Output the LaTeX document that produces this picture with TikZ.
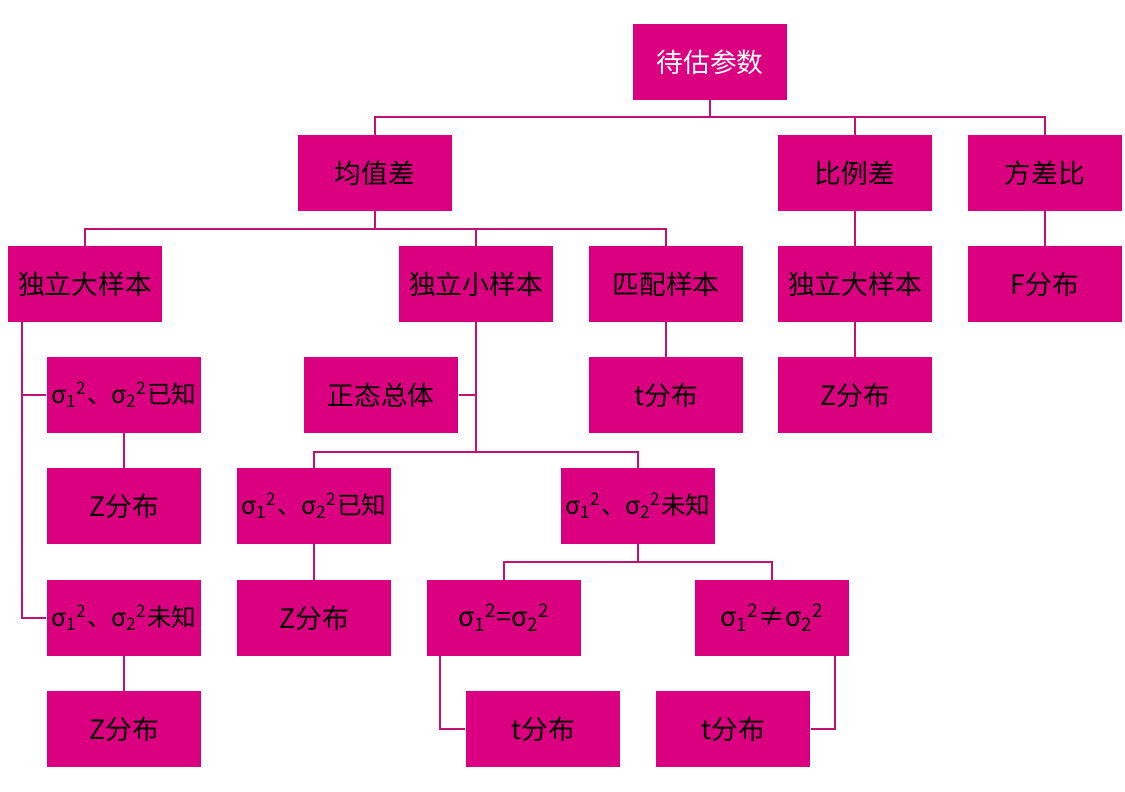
\documentclass[tikz,border=0pt]{standalone}
\usepackage{fontspec}
\newfontfamily\cjk{Noto Sans CJK SC}
\usetikzlibrary{calc}
\definecolor{boxfill}{RGB}{219,0,127}
\definecolor{linkcol}{RGB}{196,16,112}
\newcommand{\sgm}[1]{σ\textsubscript{#1}\textsuperscript{2}}
\begin{document}
\begin{tikzpicture}[
    x=0.025cm, y=-0.025cm,
    every node/.style={font=\cjk\fontsize{19}{22}\selectfont, align=center},
    box/.style={rectangle, fill=boxfill, minimum width=3.87cm, minimum height=1.9cm, inner sep=0pt},
    sbox/.style={box, font=\cjk\fontsize{17.5}{21}\selectfont},
    link/.style={draw=linkcol, line width=1.4pt}
]
\useasboundingbox (0,0) rectangle (1125,791);
% level 0 and 1
\node[box, text=white] (top) at (710,62)  {待估参数};
\node[box] (jzc)  at (375,173)  {均值差};
\node[box] (blc)  at (855,173)  {比例差};
\node[box] (fcb)  at (1045,173) {方差比};
% level 2
\node[box] (dyd1) at (85,284)   {独立大样本};
\node[box] (dyx)  at (476,284)  {独立小样本};
\node[box] (ppy)  at (666,284)  {匹配样本};
\node[box] (dyd2) at (855,284)  {独立大样本};
\node[box] (ff)   at (1045,284) {F分布};
% level 3
\node[sbox] (kn1) at (124,395)  {\sgm1、\sgm2已知};
\node[box] (ztz)  at (381,395)  {正态总体};
\node[box] (tt1)  at (666,395)  {t分布};
\node[box] (zz1)  at (855,395)  {Z分布};
% level 4
\node[box] (zz2)  at (124,506)  {Z分布};
\node[sbox] (kn2) at (314,506)  {\sgm1、\sgm2已知};
\node[sbox] (wz2) at (638,506)  {\sgm1、\sgm2未知};
% level 5
\node[sbox] (wz1) at (124,618)  {\sgm1、\sgm2未知};
\node[box] (zz3)  at (314,618)  {Z分布};
\node[box] (deng) at (504,618)  {\sgm1=\sgm2};
\node[box] (bdeng) at (772,618) {\sgm1≠\sgm2};
% level 6
\node[box] (zz4)  at (124,729)  {Z分布};
\node[box] (tt2)  at (543,729)  {t分布};
\node[box] (tt3)  at (733,729)  {t分布};

\draw[link] (top.south) -- ++(0,17) -| (jzc.north);
\draw[link] (top.south) ++(0,17) -| (blc.north);
\draw[link] (top.south) ++(0,17) -| (fcb.north);
\draw[link] (jzc.south) -- ++(0,18) -| (dyd1.north);
\draw[link] (jzc.south) ++(0,18) -| (dyx.north);
\draw[link] (jzc.south) ++(0,18) -| (ppy.north);
\draw[link] (blc) -- (dyd2);
\draw[link] (fcb) -- (ff);
\draw[link] ($(dyd1.south west)+(15,0)$) |- (kn1.west);
\draw[link] ($(dyd1.south west)+(15,0)$) |- (wz1.west);
\draw[link] (ppy) -- (tt1);
\draw[link] (dyd2) -- (zz1);
\draw[link] (kn1) -- (zz2);
\draw[link] (wz1) -- (zz4);
\draw[link] (dyx.south) |- (ztz.east);
\draw[link] (dyx.south) -- ++(0,130) -| (kn2.north);
\draw[link] (dyx.south) ++(0,130) -| (wz2.north);
\draw[link] (kn2) -- (zz3);
\draw[link] (wz2.south) -- ++(0,18) -| (deng.north);
\draw[link] (wz2.south) ++(0,18) -| (bdeng.north);
\draw[link] ($(deng.south west)+(14,0)$) |- (tt2.west);
\draw[link] ($(bdeng.south east)+(-15,0)$) |- (tt3.east);
\end{tikzpicture}
\end{document}
